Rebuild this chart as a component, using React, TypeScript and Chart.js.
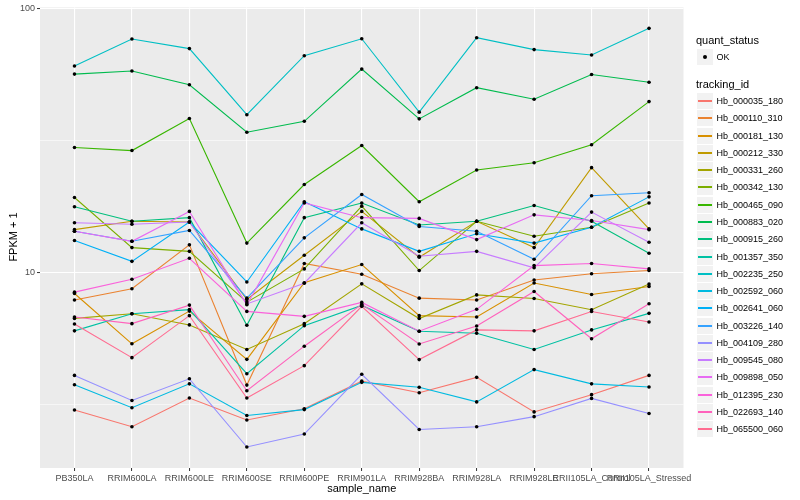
import React, { useEffect, useRef } from "react";
import { Chart, registerables } from "chart.js";

Chart.register(...registerables);

const categories = [
  "PB350LA", "RRIM600LA", "RRIM600LE", "RRIM600SE", "RRIM600PE", "RRIM901LA",
  "RRIM928BA", "RRIM928LA", "RRIM928LE", "RRII105LA_Control", "RRII105LA_Stressed",
];

const trackingIds = [
  "Hb_000035_180", "Hb_000110_310", "Hb_000181_130", "Hb_000212_330", "Hb_000331_260",
  "Hb_000342_130", "Hb_000465_090", "Hb_000883_020", "Hb_000915_260", "Hb_001357_350",
  "Hb_002235_250", "Hb_002592_060", "Hb_002641_060", "Hb_003226_140", "Hb_004109_280",
  "Hb_009545_080", "Hb_009898_050", "Hb_012395_230", "Hb_022693_140", "Hb_065500_060",
];

const seriesColors = [
  "#F8766D", "#EA8331", "#D89000", "#C09B00", "#A3A500", "#7CAE00", "#39B600", "#00BB4E",
  "#00BF7D", "#00C1A3", "#00BFC4", "#00BAE0", "#00B0F6", "#35A2FF", "#9590FF", "#C77CFF",
  "#E76BF3", "#FA62DB", "#FF62BC", "#FF6C91",
];

// FPKM + 1 values, one array per tracking_id, in category order
const hb_000035_180 = [3.01, 2.6, 3.34, 2.76, 3.04, 3.87, 3.5, 4.0, 2.96, 3.44, 4.07];
const hb_000110_310 = [7.85, 8.66, 12.7, 3.74, 10.8, 9.83, 7.98, 7.85, 9.35, 9.87, 10.15];
const hb_000181_130 = [8.31, 5.36, 7.13, 4.68, 9.13, 10.7, 6.85, 6.77, 9.11, 8.24, 8.84];
const hb_000212_330 = [14.5, 15.6, 15.5, 7.89, 11.6, 17.0, 11.4, 15.6, 12.4, 24.9, 14.6];
const hb_000331_260 = [6.69, 6.97, 6.32, 5.1, 6.39, 9.04, 6.68, 8.21, 7.96, 7.21, 9.03];
const hb_000342_130 = [19.2, 12.4, 12.0, 7.71, 10.3, 17.8, 10.15, 15.6, 13.7, 14.8, 18.3];
const hb_000465_090 = [29.7, 28.9, 38.2, 12.9, 21.5, 30.2, 18.5, 24.4, 26.0, 30.4, 44.3];
const hb_000883_020 = [56.3, 57.8, 51.3, 33.9, 37.3, 58.8, 38.1, 50.0, 45.2, 56.1, 52.4];
const hb_000915_260 = [17.7, 15.6, 16.1, 6.3, 16.1, 18.3, 15.1, 15.6, 17.9, 15.6, 11.8];
const hb_001357_350 = [6.0, 6.97, 7.22, 4.13, 6.28, 7.49, 5.98, 5.88, 5.1, 6.05, 6.99];
const hb_002235_250 = [60.4, 76.4, 70.3, 39.5, 66.1, 76.6, 40.4, 77.3, 69.7, 66.5, 83.9];
const hb_002592_060 = [3.75, 3.07, 3.78, 2.87, 3.02, 3.83, 3.67, 3.23, 4.28, 3.78, 3.68];
const hb_002641_060 = [13.2, 11.0, 15.5, 9.19, 18.5, 14.6, 12.0, 14.0, 12.9, 14.8, 19.3];
const hb_003226_140 = [14.3, 13.1, 14.4, 7.98, 13.5, 19.7, 14.9, 14.3, 11.2, 19.5, 20.0];
const hb_004109_280 = [4.07, 3.27, 3.95, 2.18, 2.44, 4.11, 2.54, 2.6, 2.84, 3.33, 2.92];
const hb_009545_080 = [15.4, 15.2, 15.5, 7.59, 9.09, 15.4, 11.5, 12.0, 10.4, 16.9, 13.0];
const hb_009898_050 = [14.3, 13.1, 17.0, 7.53, 18.3, 16.1, 16.0, 13.3, 16.5, 15.7, 14.5];
const hb_012395_230 = [8.41, 9.41, 11.3, 7.11, 6.81, 7.69, 5.98, 7.24, 10.6, 10.8, 10.3];
const hb_022693_140 = [6.77, 6.39, 7.51, 3.56, 5.25, 7.56, 5.35, 6.26, 8.46, 5.6, 7.6];
const hb_065500_060 = [6.37, 4.75, 6.85, 3.34, 4.43, 7.43, 4.67, 6.05, 6.0, 7.1, 6.48];

const seriesValues = [
  hb_000035_180, hb_000110_310, hb_000181_130, hb_000212_330, hb_000331_260,
  hb_000342_130, hb_000465_090, hb_000883_020, hb_000915_260, hb_001357_350,
  hb_002235_250, hb_002592_060, hb_002641_060, hb_003226_140, hb_004109_280,
  hb_009545_080, hb_009898_050, hb_012395_230, hb_022693_140, hb_065500_060,
];

const quantStatus = ["OK"];
const yMajorTicks = [10, 100];
const yMinorTicks = [3.1623, 31.623];
const yMin = 1.815;
const yMax = 100.7;

const FONT = "'Liberation Sans', Arial, Helvetica, sans-serif";
const PANEL_LEFT = 40;
const PANEL_RIGHT = 683.5;
const PANEL_TOP = 6;
const PANEL_BOTTOM = 468;

export default function App() {
  const ref = useRef<HTMLCanvasElement>(null);

  useEffect(() => {
    document.body.style.margin = "0";
    if (!ref.current) return;

    const lineSets = seriesValues.map((vals, i) => ({
      type: "line" as const,
      label: trackingIds[i],
      data: vals.map((v, j) => ({ x: j, y: v })),
      borderColor: seriesColors[i],
      backgroundColor: seriesColors[i],
      borderWidth: 1.1,
      pointRadius: 0,
      pointHoverRadius: 0,
      fill: false,
      tension: 0,
      order: 100 - i,
    }));

    const pointSet = {
      type: "scatter" as const,
      label: quantStatus[0],
      data: seriesValues.flatMap((vals) => vals.map((v, j) => ({ x: j, y: v }))),
      showLine: false,
      pointRadius: 1.8,
      pointHoverRadius: 1.8,
      pointBackgroundColor: "#000000",
      pointBorderWidth: 0,
      borderColor: "#000000",
      order: 0,
    };

    const panelBg = {
      id: "panelBg",
      beforeDraw(chart: any) {
        const { ctx, chartArea: a } = chart;
        ctx.save();
        ctx.fillStyle = "#EBEBEB";
        ctx.fillRect(a.left, a.top, a.right - a.left, a.bottom - a.top);
        ctx.restore();
      },
    };

    const isMajor = (v: number) => yMajorTicks.includes(v);

    const chart = new Chart(ref.current, {
      type: "line",
      data: { datasets: [...lineSets, pointSet] as any },
      plugins: [panelBg],
      options: {
        responsive: false,
        animation: false,
        layout: {
          padding: { left: 0, right: 800 - PANEL_RIGHT, top: PANEL_TOP, bottom: 0 },
        },
        plugins: {
          legend: { display: false },
          tooltip: { enabled: false },
        },
        events: [],
        scales: {
          x: {
            type: "linear",
            min: -0.6,
            max: categories.length - 1 + 0.6,
            afterBuildTicks: (s: any) => {
              s.ticks = categories.map((_, i) => ({ value: i }));
            },
            afterFit: (s: any) => {
              s.height = 500 - PANEL_BOTTOM;
            },
            ticks: {
              autoSkip: false,
              maxRotation: 0,
              minRotation: 0,
              padding: 2,
              color: "#4D4D4D",
              font: { family: FONT, size: 9 },
              callback: (v: any) => categories[Math.round(Number(v))] ?? "",
            },
            grid: {
              color: "#FFFFFF",
              lineWidth: 1.1,
              tickColor: "#333333",
              tickLength: 3,
              tickWidth: 1,
            },
            border: { display: false },
          },
          y: {
            type: "logarithmic",
            min: yMin,
            max: yMax,
            afterBuildTicks: (s: any) => {
              s.ticks = [...yMinorTicks, ...yMajorTicks]
                .sort((a, b) => a - b)
                .map((v) => ({ value: v }));
            },
            afterFit: (s: any) => {
              s.width = PANEL_LEFT;
            },
            ticks: {
              padding: 2,
              color: "#4D4D4D",
              font: { family: FONT, size: 9 },
              callback: (v: any) => (isMajor(Number(v)) ? String(v) : ""),
            },
            grid: {
              color: "#FFFFFF",
              lineWidth: (c: any) => (isMajor(c.tick?.value) ? 1.1 : 0.55),
              tickColor: (c: any) => (isMajor(c.tick?.value) ? "#333333" : "rgba(0,0,0,0)"),
              tickLength: 3,
              tickWidth: 1,
            },
            border: { display: false },
          },
        },
      } as any,
    });

    return () => chart.destroy();
  }, []);

  const keyTop0 = 92;
  const keyStep = 17.28;

  return (
    <div
      style={{
        position: "relative",
        width: 800,
        height: 500,
        background: "#FFFFFF",
        fontFamily: FONT,
        overflow: "hidden",
      }}
    >
      <canvas
        ref={ref}
        width={800}
        height={500}
        style={{ position: "absolute", left: 0, top: 0, width: 800, height: 500 }}
      />
      {/* axis titles */}
      <div
        style={{
          position: "absolute",
          left: 13 - 50,
          top: (PANEL_TOP + PANEL_BOTTOM) / 2 - 7,
          width: 100,
          height: 14,
          lineHeight: "14px",
          fontSize: 11,
          textAlign: "center",
          color: "#000",
          transform: "rotate(-90deg)",
          whiteSpace: "nowrap",
        }}
      >
        FPKM + 1
      </div>
      <div
        style={{
          position: "absolute",
          left: (PANEL_LEFT + PANEL_RIGHT) / 2 - 100,
          top: 481,
          width: 200,
          height: 14,
          lineHeight: "14px",
          fontSize: 11,
          textAlign: "center",
          color: "#000",
          whiteSpace: "nowrap",
        }}
      >
        sample_name
      </div>
      {/* legend: quant_status */}
      <div
        style={{
          position: "absolute",
          left: 696,
          top: 33,
          height: 14,
          lineHeight: "14px",
          fontSize: 11,
          color: "#000",
          whiteSpace: "nowrap",
        }}
      >
        quant_status
      </div>
      <div
        style={{
          position: "absolute",
          left: 697,
          top: 49,
          width: 16,
          height: 16,
          background: "#F2F2F2",
        }}
      >
        <div
          style={{
            position: "absolute",
            left: 6,
            top: 6,
            width: 4,
            height: 4,
            borderRadius: "50%",
            background: "#000",
          }}
        />
      </div>
      <div
        style={{
          position: "absolute",
          left: 716.5,
          top: 50,
          height: 14,
          lineHeight: "14px",
          fontSize: 9,
          color: "#000",
        }}
      >
        {quantStatus[0]}
      </div>
      {/* legend: tracking_id */}
      <div
        style={{
          position: "absolute",
          left: 696,
          top: 77,
          height: 14,
          lineHeight: "14px",
          fontSize: 11,
          color: "#000",
          whiteSpace: "nowrap",
        }}
      >
        tracking_id
      </div>
      {trackingIds.map((id, i) => {
        const top = Math.round(keyTop0 + i * keyStep);
        return (
          <React.Fragment key={id}>
            <div
              style={{
                position: "absolute",
                left: 697,
                top: top + 1,
                width: 16,
                height: 16,
                background: "#F2F2F2",
              }}
            >
              <div
                style={{
                  position: "absolute",
                  left: 1,
                  top: 7,
                  width: 14,
                  height: 2,
                  background: seriesColors[i],
                }}
              />
            </div>
            <div
              style={{
                position: "absolute",
                left: 716.5,
                top: top + 2,
                height: 14,
                lineHeight: "14px",
                fontSize: 9,
                color: "#000",
                whiteSpace: "nowrap",
              }}
            >
              {id}
            </div>
          </React.Fragment>
        );
      })}
    </div>
  );
}
